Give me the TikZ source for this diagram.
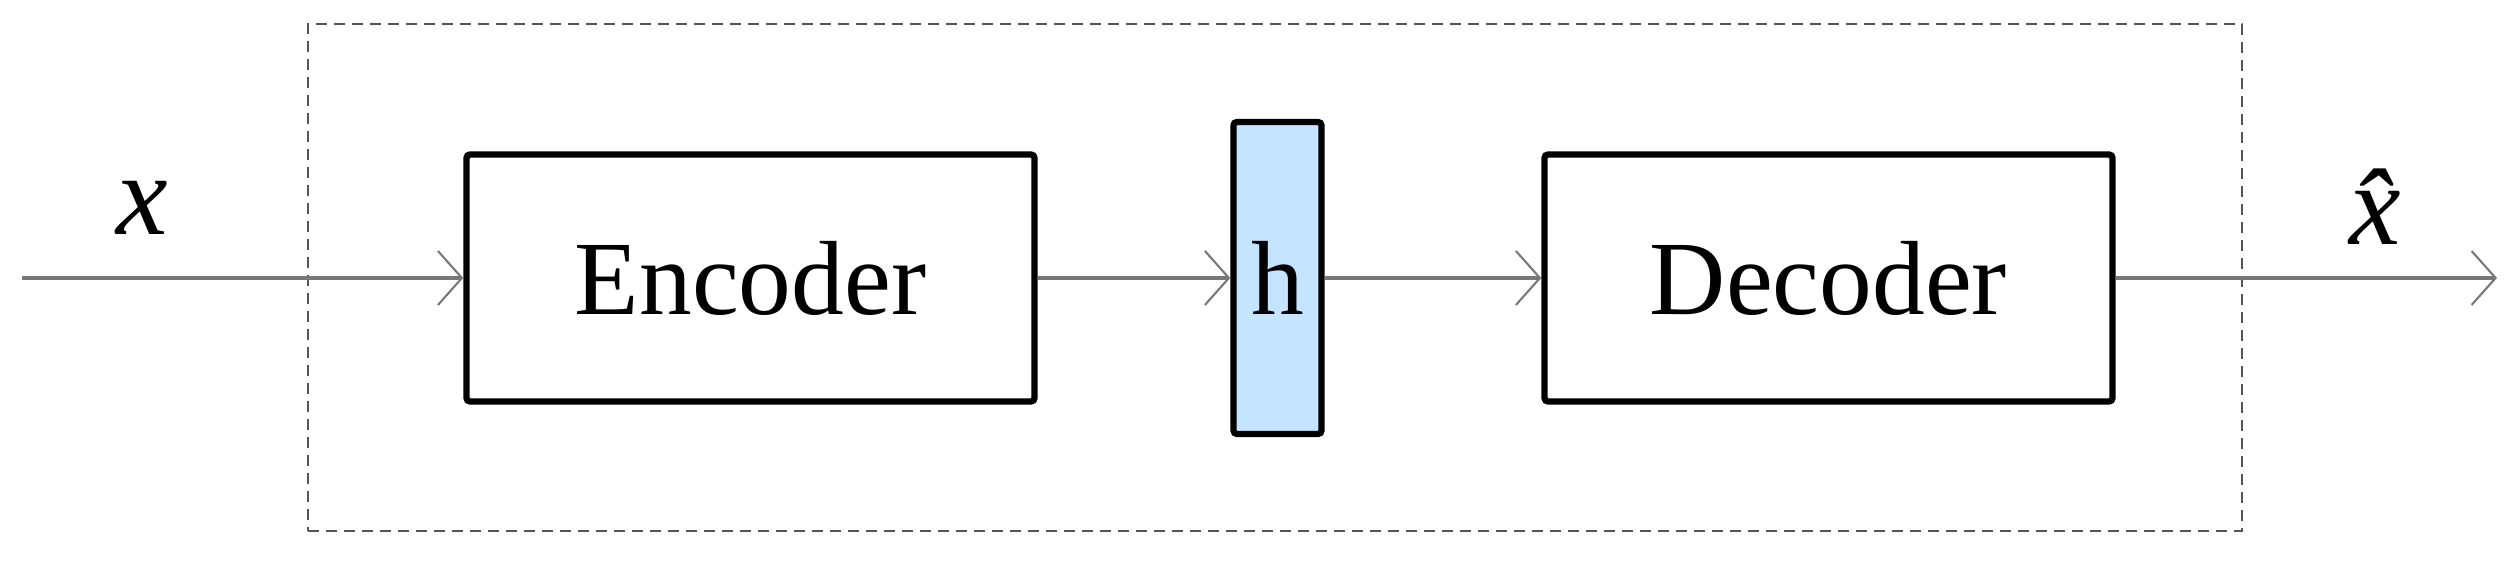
\documentclass[tikz,border=0pt]{standalone}
\usepackage{fontspec}
\setmainfont{Liberation Serif}
\usetikzlibrary{arrows.meta}
\definecolor{hblue}{RGB}{197,228,255}
\definecolor{linegray}{RGB}{120,120,120}
\definecolor{dashgray}{RGB}{85,85,85}
\begin{document}
\begin{tikzpicture}[
  block/.style={draw=black, line width=1.8pt, rounded corners=1pt, inner sep=0pt, font=\fontsize{30}{36}\selectfont},
  conn/.style={draw=linegray, line width=0.9pt, -{Straight Barb[length=2.4mm,width=5.4mm,line width=0.6pt]}},
  lbl/.style={inner sep=0pt, anchor=base, font=\fontsize{33}{40}\selectfont\itshape}
]
\useasboundingbox (0,0) rectangle (25.17,5.67);
\node[draw=dashgray, dash pattern=on 0.11cm off 0.07cm, line width=0.6pt, minimum width=19.34cm, minimum height=5.07cm, inner sep=0pt] (frame) at (12.75,2.895) {};
\node[block, minimum width=5.68cm, minimum height=2.47cm] (enc) at (7.505,2.89) {Encoder};
\node[block, fill=hblue, minimum width=0.88cm, minimum height=3.12cm] (h) at (12.775,2.89) {h};
\node[block, minimum width=5.68cm, minimum height=2.47cm] (dec) at (18.285,2.89) {Decoder};
\coordinate (in) at (0.22,2.89);
\coordinate (out) at (24.97,2.89);
\node[lbl] (xl) at (1.42,3.32) {x};
\node[lbl] (xh) at (23.75,3.22) {\^{x}};
\draw[conn] (in) -- (enc.west);
\draw[conn] (enc.east) -- (h.west);
\draw[conn] (h.east) -- (dec.west);
\draw[conn] (dec.east) -- (out);
\end{tikzpicture}
\end{document}
